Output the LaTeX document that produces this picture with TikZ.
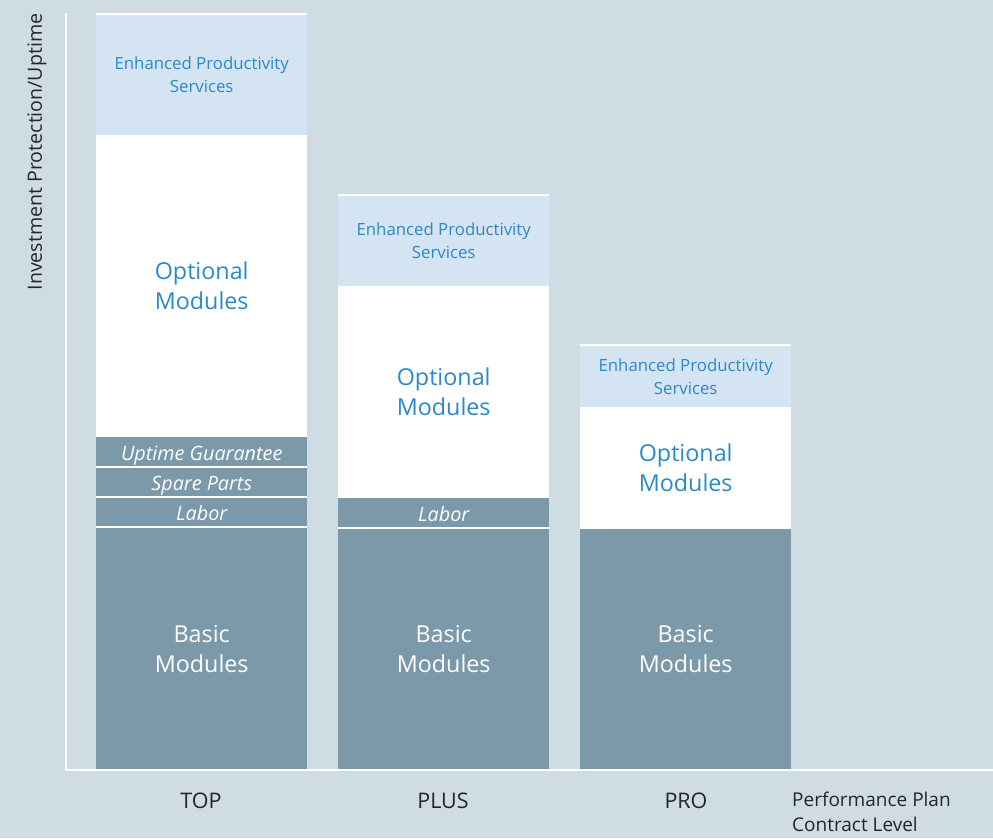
\documentclass[tikz,border=0pt]{standalone}
\usepackage{fontspec}
\setmainfont{Open Sans}
\definecolor{bgc}{HTML}{CFDCE3}
\definecolor{slate}{HTML}{7B99A9}
\definecolor{epsfill}{HTML}{D4E4F3}
\definecolor{bluetxt}{HTML}{2A8AC8}
\begin{document}
\begin{tikzpicture}[x=1pt,y=-1pt,
  band/.style={rectangle, inner sep=0pt, anchor=north west, minimum width=211pt, align=center},
  epsband/.style={band, fill=epsfill, text=bluetxt, font=\fontsize{16.8}{23}\selectfont},
  optband/.style={band, fill=white, text=bluetxt, font=\fontsize{23.3}{30}\selectfont},
  baseband/.style={band, fill=slate, text=white, font=\fontsize{23.3}{30}\selectfont},
  subband/.style={band, fill=slate, text=white, font=\fontsize{19.8}{22}\selectfont\itshape, text height=17pt, text depth=0pt},
  sep/.style={white, line width=2pt},
  axis/.style={white, line width=2.2pt},
  level/.style={font=\fontsize{21.5}{25}\selectfont, text=black!85, inner sep=0pt}
]
\fill[bgc] (0,0) rectangle (993,838);
\useasboundingbox (0,0) rectangle (993,838);

% axes
\coordinate (ytop) at (66,13);
\coordinate (origin) at (66,770);
\coordinate (xend) at (993,770);
\draw[axis] (ytop) -- (origin) -- (xend);
\node[rotate=90, font=\fontsize{19.6}{22}\selectfont, text=black!85, inner sep=0pt] (ylabel) at (37,152) {Investment Protection/Uptime};

% TOP
\node[epsband, minimum height=121pt] (topeps) at (96,14) {Enhanced Productivity\\Services};
\node[optband, minimum height=302pt] (topopt) at (96,135) {Optional\\Modules};
\node[subband, minimum height=30pt] (topup) at (96,437) {Uptime Guarantee};
\node[subband, minimum height=30pt] (topspare) at (96,467) {Spare Parts};
\node[subband, minimum height=30pt] (toplab) at (96,497) {Labor};
\node[baseband, minimum height=241pt] (topbase) at (96,528) {Basic\\Modules};
\draw[sep] (topeps.north west) -- (topeps.north east);
\draw[sep] (topup.south west) -- (topup.south east);
\draw[sep] (topspare.south west) -- (topspare.south east);
\draw[sep] (toplab.south west) -- (toplab.south east);

% PLUS
\node[epsband, minimum height=91pt] (pluseps) at (338,195) {Enhanced Productivity\\Services};
\node[optband, minimum height=212pt] (plusopt) at (338,286) {Optional\\Modules};
\node[subband, minimum height=30pt] (pluslab) at (338,498) {Labor};
\node[baseband, minimum height=241pt] (plusbase) at (338,528) {Basic\\Modules};
\draw[sep] (pluseps.north west) -- (pluseps.north east);
\draw[sep] (pluslab.south west) -- (pluslab.south east);

% PRO
\node[epsband, minimum height=62pt] (proeps) at (580,345) {Enhanced Productivity\\Services};
\node[optband, minimum height=122pt] (proopt) at (580,407) {Optional\\Modules};
\node[baseband, minimum height=240pt] (probase) at (580,529) {Basic\\Modules};
\draw[sep] (proeps.north west) -- (proeps.north east);

% contract levels
\node[level] (ltop) at (201,801) {TOP};
\node[level] (lplus) at (443,801) {PLUS};
\node[level] (lpro) at (686,801) {PRO};
\node[font=\fontsize{19}{25}\selectfont, text=black!85, inner sep=0pt, anchor=north west, align=left] (lplan) at (792,792) {Performance Plan\\Contract Level};
\end{tikzpicture}
\end{document}
